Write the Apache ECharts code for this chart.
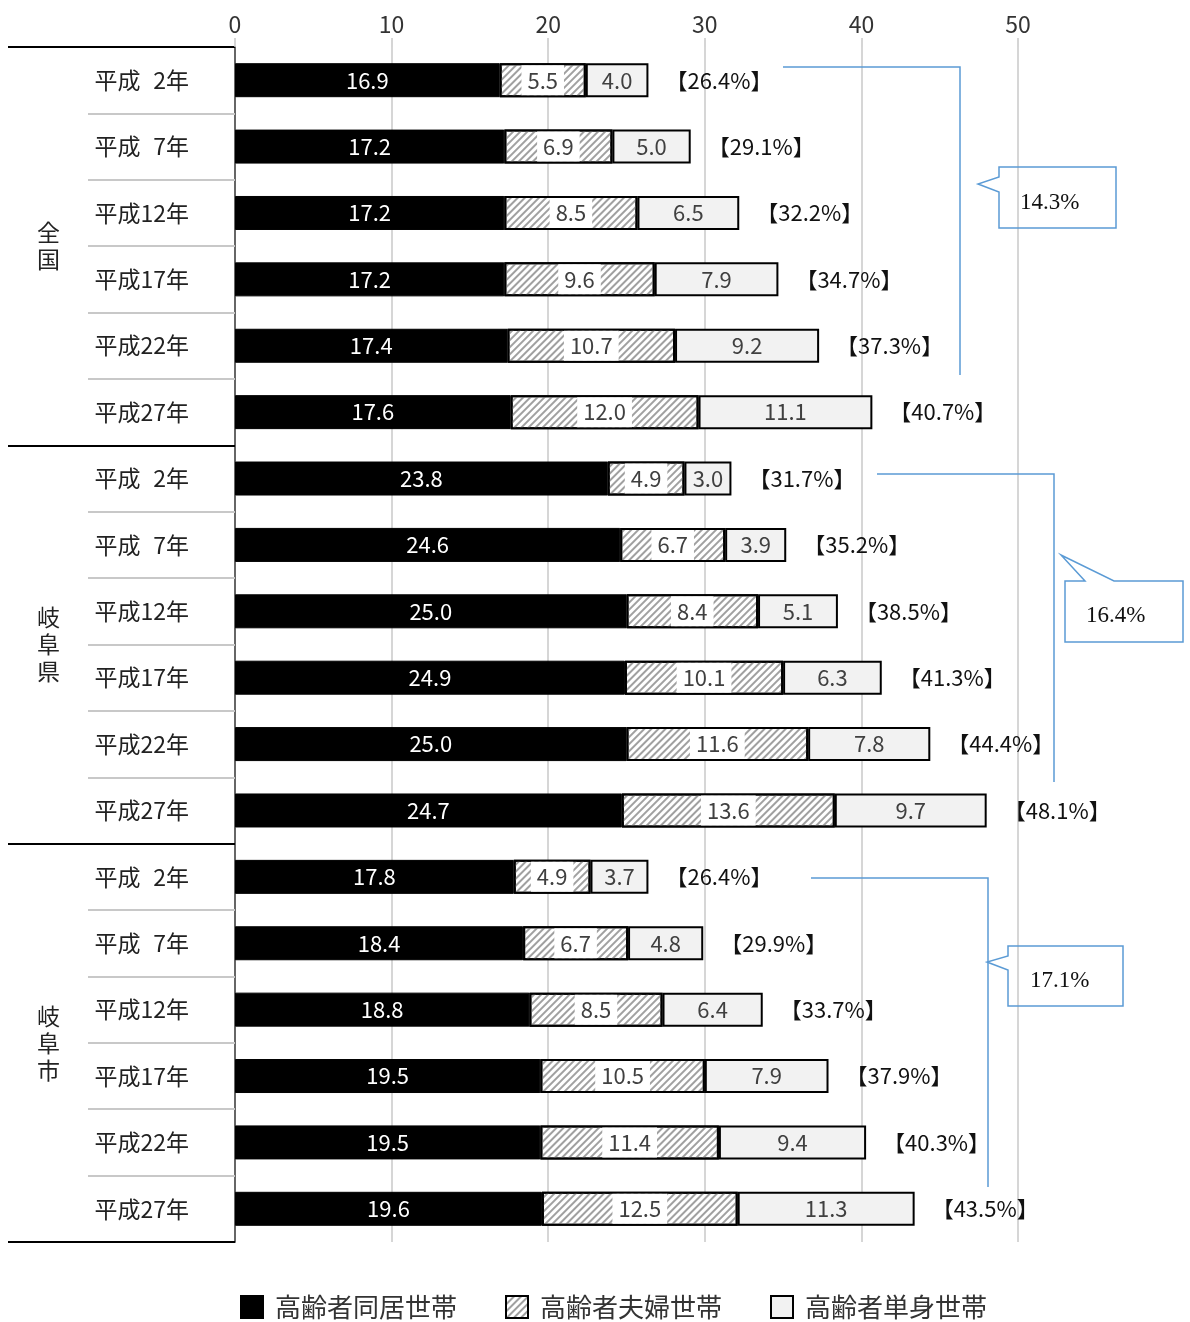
<!DOCTYPE html>
<html>
<head>
<meta charset="utf-8">
<script src="https://cdn.jsdelivr.net/npm/echarts@6/dist/echarts.min.js"></script>
<style>
  html, body { margin: 0; padding: 0; background: #fff; }
  #chart { width: 1190px; height: 1322px; }
</style>
</head>
<body>
<div id="chart"></div>
<script>
// 区分・年次
const groups = ['全国', '岐阜県', '岐阜市'];
const years = ['平成\u20072年', '平成\u20077年', '平成12年', '平成17年', '平成22年', '平成27年'];
const categories = [].concat(years, years, years);

// 世帯割合（％）
const cohabit = [16.9, 17.2, 17.2, 17.2, 17.4, 17.6, 23.8, 24.6, 25.0, 24.9, 25.0, 24.7, 17.8, 18.4, 18.8, 19.5, 19.5, 19.6];
const couple = [5.5, 6.9, 8.5, 9.6, 10.7, 12.0, 4.9, 6.7, 8.4, 10.1, 11.6, 13.6, 4.9, 6.7, 8.5, 10.5, 11.4, 12.5];
const single = [4.0, 5.0, 6.5, 7.9, 9.2, 11.1, 3.0, 3.9, 5.1, 6.3, 7.8, 9.7, 3.7, 4.8, 6.4, 7.9, 9.4, 11.3];
const totalPct = [26.4, 29.1, 32.2, 34.7, 37.3, 40.7, 31.7, 35.2, 38.5, 41.3, 44.4, 48.1, 26.4, 29.9, 33.7, 37.9, 40.3, 43.5];

// 増加幅の吹き出し
const notes = ['14.3%', '16.4%', '17.1%'];

const seriesNames = ['高齢者同居世帯', '高齢者夫婦世帯', '高齢者単身世帯'];
const jpFont = '"Noto Sans CJK JP", sans-serif';
const numFont = '"Liberation Sans Narrow", "Noto Sans CJK JP", sans-serif';
const blue = '#5b9bd5';

const fmt = (p) => Number(p.value).toFixed(1);

const chart = echarts.init(document.getElementById('chart'));

const option = {
    animation: false,
    backgroundColor: '#fff',
    grid: { left: 235, right: 172, top: 47, bottom: 80 },
    legend: {
        data: seriesNames,
        top: 1289,
        left: 235,
        icon: 'rect',
        itemWidth: 22,
        itemHeight: 22,
        itemGap: 48,
        textStyle: { fontFamily: jpFont, fontSize: 26, color: '#333', padding: [0, 0, 0, 7] },
    },
    xAxis: {
        type: 'value',
        position: 'top',
        min: 0,
        max: 50,
        interval: 10,
        axisLine: { show: false },
        axisTick: { show: true, length: 9, lineStyle: { color: '#c8c8c8', width: 1.5 } },
        axisLabel: { fontFamily: numFont, fontSize: 23, color: '#333', margin: 11 },
        splitLine: { show: true, lineStyle: { color: '#c8c8c8', width: 1.5 } },
    },
    yAxis: [
        {
            type: 'category',
            data: categories,
            inverse: true,
            axisLine: { show: true, lineStyle: { color: '#666', width: 2 } },
            axisTick: { show: true, length: 147, lineStyle: { color: '#c8c8c8', width: 2 } },
            axisLabel: { fontFamily: jpFont, fontSize: 23, color: '#222', margin: 46 },
        },
        {
            type: 'category',
            data: groups,
            inverse: true,
            position: 'left',
            axisLine: { show: false },
            axisTick: { show: true, length: 227, lineStyle: { color: '#000', width: 2 } },
            axisLabel: {
                fontFamily: jpFont,
                fontSize: 23,
                color: '#222',
                lineHeight: 27,
                margin: 175,
                formatter: (v) => v.split('').join('\n'),
            },
        },
    ],
    series: [
        {
            name: seriesNames[0],
            type: 'bar',
            stack: 'total',
            barWidth: 34,
            itemStyle: { color: '#000', borderColor: '#000', borderWidth: 1 },
            label: {
                show: true,
                position: 'inside',
                color: '#fff',
                fontFamily: numFont,
                fontSize: 22,
                formatter: fmt,
            },
            data: cohabit,
        },
        {
            name: seriesNames[1],
            type: 'bar',
            stack: 'total',
            itemStyle: {
                color: '#fff',
                borderColor: '#000',
                borderWidth: 2,
                decal: {
                    symbol: 'rect',
                    symbolSize: 1,
                    dashArrayX: [1, 0],
                    dashArrayY: [1.5, 3],
                    rotation: -Math.PI / 4,
                    color: '#a0a0a0',
                },
            },
            label: {
                show: true,
                position: 'inside',
                color: '#404040',
                backgroundColor: '#fff',
                padding: [4, 6],
                fontFamily: numFont,
                fontSize: 22,
                formatter: fmt,
            },
            data: couple,
        },
        {
            name: seriesNames[2],
            type: 'bar',
            stack: 'total',
            itemStyle: { color: '#f2f2f2', borderColor: '#000', borderWidth: 2 },
            label: {
                show: true,
                position: 'inside',
                color: '#404040',
                fontFamily: numFont,
                fontSize: 22,
                formatter: fmt,
            },
            data: single,
        },
        {
            // 合計ラベル用（幅0）
            name: 'total',
            type: 'bar',
            stack: 'total',
            itemStyle: { color: 'transparent' },
            label: {
                show: true,
                position: 'right',
                distance: 17,
                color: '#111',
                fontFamily: numFont,
                fontSize: 22,
                formatter: (p) => '【' + totalPct[p.dataIndex].toFixed(1) + '%】',
            },
            data: new Array(categories.length).fill(0),
        },
    ],
};

chart.setOption(option);

// 吹き出し・括弧線
const lineStyle = { stroke: blue, lineWidth: 1.5, fill: null };
const textStyle = (t) => ({ text: t, font: '23px "Liberation Serif", "DejaVu Serif", serif', fill: '#111', textVerticalAlign: 'middle' });
chart.setOption({
    graphic: [
        { type: 'polyline', shape: { points: [[783, 67], [960, 67], [960, 375]] }, style: lineStyle },
        { type: 'polyline', shape: { points: [[877, 474], [1054, 474], [1054, 782]] }, style: lineStyle },
        { type: 'polyline', shape: { points: [[811, 878], [988, 878], [988, 1187]] }, style: lineStyle },
        { type: 'polygon', shape: { points: [[999, 167], [1116, 167], [1116, 228], [999, 228], [999, 192], [978, 184], [999, 177]] }, style: lineStyle },
        { type: 'polygon', shape: { points: [[1065, 581], [1085, 581], [1061, 555], [1114, 581], [1183, 581], [1183, 642], [1065, 642]] }, style: lineStyle },
        { type: 'polygon', shape: { points: [[1008, 946], [1123, 946], [1123, 1006], [1008, 1006], [1008, 970], [987, 962], [1008, 956]] }, style: lineStyle },
        { type: 'text', x: 1020, y: 203, style: textStyle(notes[0]) },
        { type: 'text', x: 1086, y: 616, style: textStyle(notes[1]) },
        { type: 'text', x: 1030, y: 981, style: textStyle(notes[2]) },
    ],
});
</script>
</body>
</html>
